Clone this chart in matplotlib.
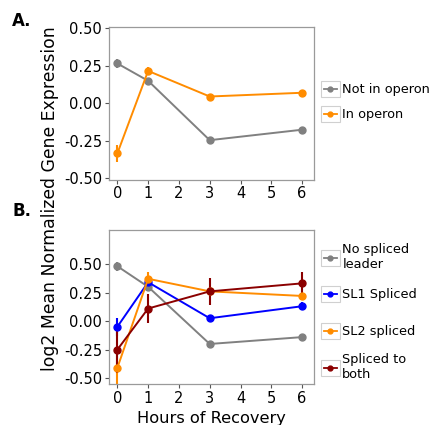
import matplotlib
matplotlib.use("Agg")
import matplotlib.pyplot as plt
from matplotlib.legend_handler import HandlerBase
from matplotlib.patches import Rectangle
from matplotlib.lines import Line2D

hours = [0, 1, 3, 6]

# panel A
not_operon = [0.266, 0.15, -0.247, -0.177]
not_operon_err = [0.03, 0.015, 0.012, 0.015]
in_operon = [-0.336, 0.216, 0.045, 0.07]
in_operon_err = [0.055, 0.025, 0.015, 0.02]

# panel B
no_sl = [0.48, 0.30, -0.20, -0.14]
no_sl_err = [0.04, 0.02, 0.012, 0.015]
sl1 = [-0.05, 0.34, 0.025, 0.13]
sl1_err = [0.08, 0.03, 0.025, 0.035]
sl2 = [-0.41, 0.37, 0.26, 0.22]
sl2_err = [0.14, 0.06, 0.02, 0.03]
both = [-0.25, 0.11, 0.26, 0.33]
both_err = [0.2, 0.13, 0.12, 0.1]

GREY = "#808080"
ORANGE = "#FF8C00"
BLUE = "#0000FF"
DARKRED = "#8B0000"


class KeyHandler(HandlerBase):
    def create_artists(self, legend, orig_handle, xdescent, ydescent,
                       width, height, fontsize, trans):
        x0, y0 = -xdescent, -ydescent
        c = orig_handle.get_color()
        box = Rectangle((x0, y0), width, height, fc="white", ec="#d0d0d0",
                        lw=0.8, transform=trans)
        ln = Line2D([x0 + 2, x0 + width - 2], [y0 + height / 2] * 2,
                    color=c, lw=1.3, transform=trans)
        dot = Line2D([x0 + width / 2], [y0 + height / 2], marker="o", ms=3.5,
                     color=c, lw=0, transform=trans)
        return [box, ln, dot]


fig = plt.figure(figsize=(4.3, 4.25), dpi=100)
axA = fig.add_axes([0.2535, 0.5776, 0.477, 0.359])
axB = fig.add_axes([0.2535, 0.0965, 0.477, 0.3624])


def draw(ax, y, err, color, label):
    ax.errorbar(hours, y, yerr=err, color=color, lw=1.4, elinewidth=1.5,
                marker="o", ms=5, capsize=0, label=label)


draw(axA, not_operon, not_operon_err, GREY, "Not in operon")
draw(axA, in_operon, in_operon_err, ORANGE, "In operon")

draw(axB, no_sl, no_sl_err, GREY, "No spliced\nleader")
draw(axB, sl1, sl1_err, BLUE, "SL1 Spliced")
draw(axB, sl2, sl2_err, ORANGE, "SL2 spliced")
draw(axB, both, both_err, DARKRED, "Spliced to\nboth")

axA.set_ylim(-0.51, 0.51)
axB.set_ylim(-0.55, 0.797)
for ax in (axA, axB):
    ax.set_xlim(-0.27, 6.39)
    ax.set_xticks(range(7))
    ax.set_yticks([-0.5, -0.25, 0, 0.25, 0.5])
    ax.set_yticklabels(["-0.50", "-0.25", "0.00", "0.25", "0.50"])
    ax.tick_params(labelsize=10.5, color="#555555", length=3, width=0.8,
                   pad=2)
    for s in ax.spines.values():
        s.set_color("#9a9a9a")
        s.set_linewidth(0.9)

axB.set_xlabel("Hours of Recovery", fontsize=11.7, labelpad=4)
fig.text(0.116, 0.532, "log2 Mean Normalized Gene Expression", rotation=90,
         fontsize=12.4, ha="center", va="center")

fig.text(0.028, 0.951, "A.", fontsize=12, fontweight="bold", va="center")
fig.text(0.028, 0.503, "B.", fontsize=12, fontweight="bold", va="center")

# legends: one entry per key so each row sits where the reference has it
rowsA = [0.7906, 0.7318]
rowsB = [0.395, 0.308, 0.221, 0.136]
for ax, rows in ((axA, rowsA), (axB, rowsB)):
    handles, labels = ax.get_legend_handles_labels()
    for h, lab, yc in zip(handles, labels, rows):
        fig.legend([h[0]], [lab], loc="center left",
                   bbox_to_anchor=(0.7465, yc), frameon=False, fontsize=9.3,
                   handler_map={Line2D: KeyHandler()}, handlelength=1.45,
                   handleheight=1.45, handletextpad=0.2, borderpad=0,
                   borderaxespad=0)

fig.savefig("out.png", dpi=100)
